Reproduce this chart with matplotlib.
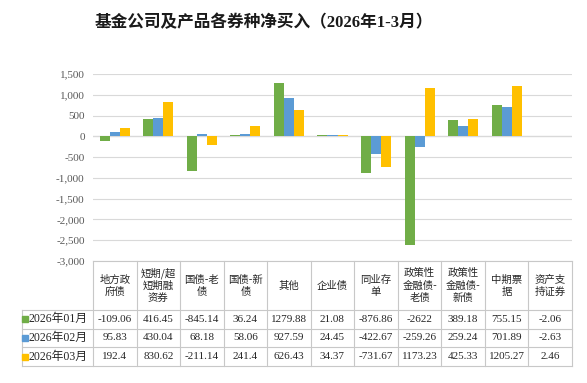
import matplotlib.pyplot as plt
import numpy as np

plt.rcParams['font.family'] = ['Liberation Serif', 'Noto Sans CJK SC', 'DejaVu Sans']

categories = ['地方政\n府债', '短期/超\n短期融\n资券', '国债-老\n债', '国债-新\n债', '其他',
              '企业债', '同业存\n单', '政策性\n金融债-\n老债', '政策性\n金融债-\n新债',
              '中期票\n据', '资产支\n持证券']
series_names = ['2026年01月', '2026年02月', '2026年03月']
jan = [-109.06, 416.45, -845.14, 36.24, 1279.88, 21.08, -876.86, -2622, 389.18, 755.15, -2.06]
feb = [95.83, 430.04, 68.18, 58.06, 927.59, 24.45, -422.67, -259.26, 259.24, 701.89, -2.63]
mar = [192.4, 830.62, -211.14, 241.4, 626.43, 34.37, -731.67, 1173.23, 425.33, 1205.27, 2.46]
yticks = [-3000, -2500, -2000, -1500, -1000, -500, 0, 500, 1000, 1500]

colors = ['#70AD47', '#5B9BD5', '#FFC000']
series = [jan, feb, mar]

W, H = 587, 383
fig = plt.figure(figsize=(W / 100, H / 100), dpi=100)

# plot area in pixels
x0, x1 = 93, 572
ytop, ybot = 74, 261
ax = fig.add_axes([x0 / W, 1 - ybot / H, (x1 - x0) / W, (ybot - ytop) / H])

n = len(categories)
x = np.arange(n) + 0.5
bw = 0.23
for k, (vals, c) in enumerate(zip(series, colors)):
    ax.bar(x + (k - 1) * bw, vals, width=bw, color=c, zorder=3)

ax.set_xlim(0, n)
ax.set_ylim(-3000, 1500)
ax.set_yticks(yticks)
ax.set_yticklabels([f'{v:,}' for v in yticks], fontsize=8, color='#595959')
ax.set_xticks([])
ax.tick_params(axis='y', length=0, pad=6)
ax.grid(axis='y', color='#D9D9D9', linewidth=0.8, zorder=0)
ax.axhline(0, color='#D9D9D9', linewidth=0.9, zorder=2)
for s in ax.spines.values():
    s.set_visible(False)

# data table below
tb_top, tb_bot = 261, 366
tax = fig.add_axes([x0 / W, 1 - tb_bot / H, (x1 - x0) / W, (tb_bot - tb_top) / H])
tax.set_xlim(0, n)
tax.set_ylim(tb_bot - tb_top, 0)
tax.axis('off')

line_c = '#C8C8C8'
row_y = [0, 49, 67.5, 86, 105]
left = -1.63
for i in range(n + 1):
    tax.plot([i, i], [0, 105], color=line_c, lw=0.8, clip_on=False)
tax.plot([left, left], [49, 105], color=line_c, lw=0.8, clip_on=False)
tax.plot([0, n], [0, 0], color=line_c, lw=0.8, clip_on=False)
for yy in row_y[1:]:
    tax.plot([left, n], [yy, yy], color=line_c, lw=0.8, clip_on=False)

for i, cat in enumerate(categories):
    tax.text(i + 0.5, 24.5, cat, ha='center', va='center', fontsize=7.5,
             linespacing=1.25, color='#262626', family=['Noto Sans CJK SC'])

for r, (name, vals, c) in enumerate(zip(series_names, series, colors)):
    yc = (row_y[r + 1] + row_y[r + 2]) / 2
    tax.plot([-1.57], [yc], marker='s', ms=4.2, color=c, clip_on=False, lw=0)
    tax.text(-1.49, yc, name, ha='left', va='center', fontsize=8.5, color='#262626')
    for i, v in enumerate(vals):
        tax.text(i + 0.5, yc, f'{v:g}', ha='center', va='center', fontsize=8,
                 color='#262626')

fig.text(264 / W, 1 - 23 / H, '基金公司及产品各券种净买入（2026年1-3月）', ha='center',
         va='center', fontsize=12, fontweight='bold', color='#1a1a1a')

fig.savefig('out.png', dpi=100)
